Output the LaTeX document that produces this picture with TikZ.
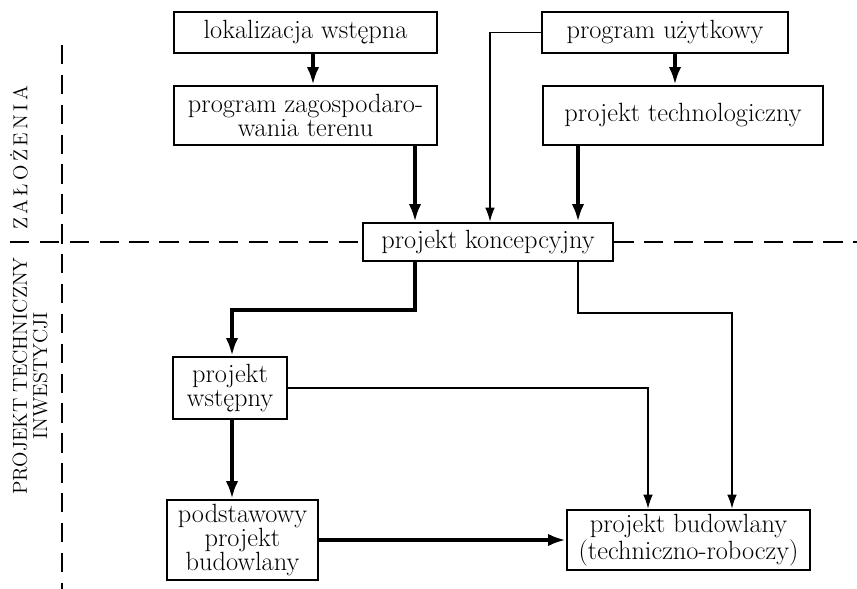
\documentclass[tikz,border=0pt]{standalone}
\usetikzlibrary{arrows.meta}
\tikzset{
 box/.style={draw, line width=1.4pt, inner sep=2pt, align=center, font=\fontsize{15}{13.5}\selectfont},
 mainflow/.style={line width=2.2pt, -{Latex[length=10pt,width=7pt]}},
 sideflow/.style={line width=0.9pt, -{Latex[length=8pt,width=5.5pt]}},
 phaseline/.style={line width=1pt, dash pattern=on 11pt off 6pt},
 phase/.style={rotate=90, align=center, font=\fontsize{11.5}{11.5}\selectfont}
}
\begin{document}
\begin{tikzpicture}
 \useasboundingbox (0,0) rectangle (17.14,-11.78);
 \coordinate (colA) at (8.30,0);
 \coordinate (colB) at (9.80,0);
 \coordinate (colC) at (11.56,0);
 \coordinate (colD) at (13.50,0);
 \coordinate (colE) at (4.64,0);
 \coordinate (colF) at (12.96,0);
 \coordinate (colG) at (14.64,0);
 \coordinate (lokcol) at (6.26,0);
 \coordinate (rowA) at (0,-6.20);
 \coordinate (rowB) at (0,-6.26);

 \node[box, minimum width=5.26cm, minimum height=0.82cm] (lok) at (6.11,-0.65) {lokalizacja wstępna};
 \node[box, minimum width=5.26cm, minimum height=1.18cm] (zag) at (6.11,-2.31) {program zagospodaro-\\wania terenu};
 \node[box, minimum width=4.92cm, minimum height=0.82cm] (uzyt) at (13.30,-0.65) {program użytkowy};
 \node[box, minimum width=5.60cm, minimum height=1.18cm] (tech) at (13.66,-2.31) {projekt technologiczny};
 \node[box, minimum width=5.00cm, minimum height=0.76cm] (konc) at (9.76,-4.84) {projekt koncepcyjny};
 \node[box, minimum width=2.28cm, minimum height=1.24cm] (wst) at (4.60,-7.76) {projekt\\wstępny};
 \node[box, minimum width=3.02cm, minimum height=1.60cm] (pods) at (4.85,-10.80) {podstawowy\\projekt\\budowlany};
 \node[box, minimum width=4.86cm, minimum height=1.20cm] (bud) at (13.77,-10.80) {projekt budowlany\\(techniczno-roboczy)};

 \draw[mainflow] (lok.south -| lokcol) -- (zag.north -| lokcol);
 \draw[mainflow] (zag.south -| colA) -- (konc.north -| colA);
 \draw[mainflow] (uzyt.south -| colD) -- (tech.north -| colD);
 \draw[mainflow] (tech.south -| colC) -- (konc.north -| colC);
 \draw[sideflow] (uzyt.west) -| (konc.north -| colB);
 \draw[mainflow] (konc.south -| colA) |- (rowA -| colE) -- (wst.north -| colE);
 \draw[sideflow] (konc.south -| colC) |- (rowB -| colG) -- (bud.north -| colG);
 \draw[sideflow] (wst.east) -| (bud.north -| colF);
 \draw[mainflow] (wst.south -| colE) -- (pods.north -| colE);
 \draw[mainflow] (pods.east) -- (bud.west);

 \draw[phaseline] (1.24,-0.9) -- (1.24,-11.78);
 \draw[phaseline] (0.2,-4.84) -- (konc.west);
 \draw[phaseline] (konc.east) -- (17.14,-4.84);

 \node[phase] (zal) at (0.38,-3.16) {Z\,A\,Ł\,O\,Ż\,E\,N\,I\,A};
 \node[phase] (ptech) at (0.60,-7.52) {PROJEKT TECHNICZNY\\INWESTYCJI};
\end{tikzpicture}
\end{document}
